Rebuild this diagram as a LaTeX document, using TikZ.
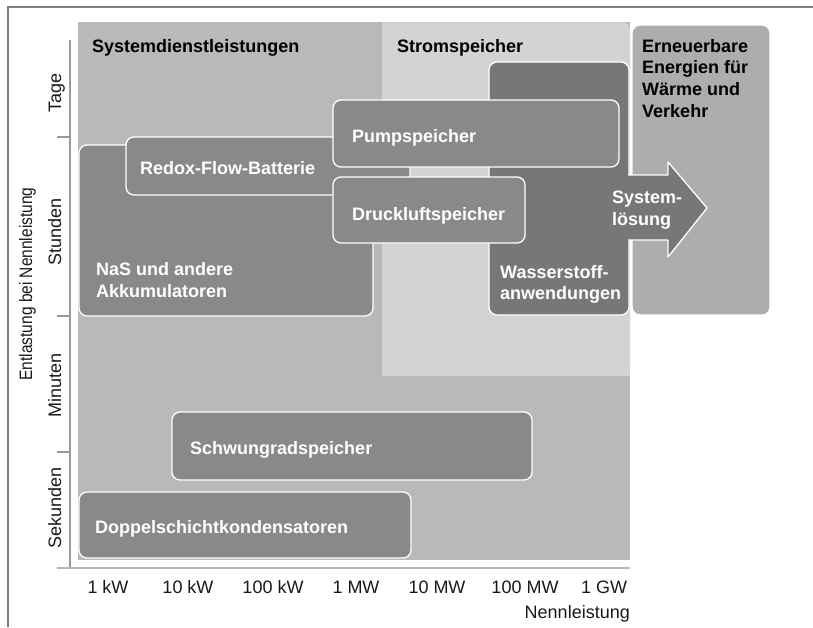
\documentclass[tikz,border=0pt]{standalone}
\usepackage{fontspec}
\setmainfont{Liberation Sans}
\definecolor{bgA}{HTML}{B9B9B9}
\definecolor{bgB}{HTML}{D3D3D3}
\definecolor{bgC}{HTML}{ADADAD}
\definecolor{boxgray}{HTML}{898989}
\definecolor{darkgray}{HTML}{777777}
\definecolor{framegray}{HTML}{808080}
\definecolor{axisgray}{HTML}{999999}
\tikzset{
  techbox/.style={fill=boxgray, draw=white, line width=1.3pt, rounded corners=8pt},
  darkbox/.style={fill=darkgray, draw=white, line width=1.3pt, rounded corners=8pt},
  boxlabel/.style={anchor=base west, inner sep=0pt, text=white, font=\fontsize{18}{21.5}\selectfont\bfseries, align=left},
  headlabel/.style={anchor=base west, inner sep=0pt, text=black, font=\fontsize{18}{21.7}\selectfont\bfseries, align=left},
  axislabel/.style={anchor=base, inner sep=0pt, text=black!90, font=\fontsize{18}{21}\selectfont},
  axisline/.style={draw=axisgray, line width=1.3pt},
}
\begin{document}
\begin{tikzpicture}[x=1pt, y=-1pt]
\useasboundingbox (0,0) rectangle (813,627);
% frame
\draw[framegray, line width=1.5pt] (8,627) -- (8,7) -- (813,7);
% regions
\fill[bgA] (78,22) rectangle (630,560);
\fill[bgB, rounded corners=8pt] (382,22) rectangle (630,376);
\fill[bgB] (382,300) rectangle (630,376);
\fill[bgB] (382,22) rectangle (450,376);
\filldraw[fill=bgC, draw=white, line width=1.3pt, rounded corners=8pt] (632,25) rectangle (770,315);
% Wasserstoff
\draw[darkbox] (489,62) rectangle (629,315);
% arrow
\fill[darkgray] (624,175) -- (668,175) -- (668,162) -- (707,208) -- (668,257) -- (668,240) -- (624,240) -- cycle;
\draw[white, line width=1.3pt, line join=round] (628,175) -- (668,175) -- (668,162) -- (707,208) -- (668,257) -- (668,240) -- (628,240);
% technology boxes
\draw[techbox] (79,145) rectangle (373,316);
\draw[techbox] (126,137) rectangle (410,195);
\draw[techbox] (333,100) rectangle (619,167);
\draw[techbox] (333,177) rectangle (525,243);
\draw[techbox] (172,412) rectangle (532,480);
\draw[techbox] (79,492) rectangle (411,558);
% axes
\draw[axisline] (70,40) -- (70,568);
\draw[axisline, draw=axisgray!70] (57,568) -- (630,568);
\draw[axisline] (57,137) -- (70,137);
\draw[axisline] (57,316) -- (70,316);
\draw[axisline] (57,452) -- (70,452);
% headers
\node[headlabel] (hsys) at (92,52) {Systemdienstleistungen};
\node[headlabel] (hstrom) at (397,52) {Stromspeicher};
\node[headlabel] (hern) at (642,52) {Erneuerbare};
\node[headlabel] (hern2) at (642,73.5) {Energien für};
\node[headlabel] (hern3) at (642,95) {Wärme und};
\node[headlabel] (hern4) at (642,117) {Verkehr};
% box labels
\node[boxlabel] (tpump) at (352,142) {Pumpspeicher};
\node[boxlabel] (tredox) at (140,174) {Redox-Flow-Batterie};
\node[boxlabel] (tdruck) at (352,220) {Druckluftspeicher};
\node[boxlabel] (tnas) at (96,275) {NaS und andere};
\node[boxlabel] (tnas2) at (96,297.5) {Akkumulatoren};
\node[boxlabel] (th2) at (500,278) {Wasserstoff-};
\node[boxlabel] (th22) at (500,299) {anwendungen};
\node[boxlabel] (tsys) at (612,203) {System-};
\node[boxlabel] (tsys2) at (612,225) {lösung};
\node[boxlabel] (tschw) at (190,454) {Schwungradspeicher};
\node[boxlabel] (tdopp) at (95,533) {Doppelschichtkondensatoren};
% y labels
\node[axislabel, rotate=90] (ytage) at (61,93) {Tage};
\node[axislabel, rotate=90] (ystunden) at (61,232) {Stunden};
\node[axislabel, rotate=90] (yminuten) at (61,385) {Minuten};
\node[axislabel, rotate=90] (ysek) at (61,508) {Sekunden};
\node[axislabel, rotate=90] (ytitle) at (32,284) {\scalebox{0.86}[1]{Entlastung bei Nennleistung}};
% x labels
\node[axislabel] (x1) at (108,593) {1 kW};
\node[axislabel] (x2) at (188,593) {10 kW};
\node[axislabel] (x3) at (273,593) {100 kW};
\node[axislabel] (x4) at (356,593) {1 MW};
\node[axislabel] (x5) at (437,593) {10 MW};
\node[axislabel] (x6) at (525,593) {100 MW};
\node[axislabel] (x7) at (604,593) {1 GW};
\node[axislabel, anchor=base east] (xtitle) at (630,618) {Nennleistung};
\end{tikzpicture}
\end{document}
